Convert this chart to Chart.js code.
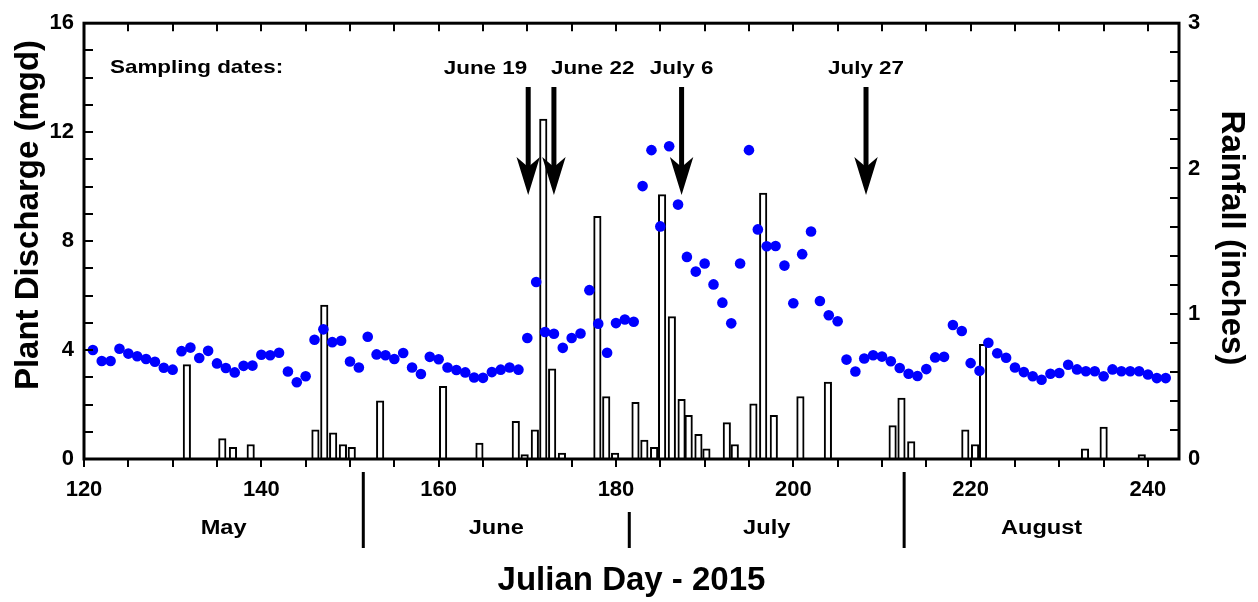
<!DOCTYPE html>
<html>
<head>
<meta charset="utf-8">
<script src="https://cdn.jsdelivr.net/npm/chart.js@4.4.0/dist/chart.umd.min.js"></script>
<style>
  html, body { margin: 0; padding: 0; background: #fff; }
  #chart { display: block; }
</style>
</head>
<body>
<canvas id="chart" width="1258" height="602"></canvas>
<script>
// daily plant discharge (mgd), one value per Julian day starting at firstDay
const firstDay = 121;
const discharge = [
    4.0, 3.6, 3.6, 4.05, 3.87, 3.77, 3.67, 3.57, 3.35, 3.28,
    3.96, 4.09, 3.71, 3.97, 3.51, 3.34, 3.18, 3.42, 3.43, 3.83,
    3.81, 3.90, 3.21, 2.82, 3.04, 4.38, 4.76, 4.29, 4.34, 3.58,
    3.36, 4.49, 3.84, 3.81, 3.67, 3.89, 3.36, 3.12, 3.75, 3.66,
    3.36, 3.27, 3.18, 2.99, 2.98, 3.19, 3.28, 3.36, 3.28, 4.44,
    6.50, 4.66, 4.60, 4.08, 4.44, 4.61, 6.20, 4.97, 3.90, 4.99,
    5.12, 5.04, 10.02, 11.34, 8.54, 11.48, 9.34, 7.42, 6.88, 7.18,
    6.41, 5.74, 4.98, 7.18, 11.34, 8.43, 7.81, 7.82, 7.10, 5.72,
    7.52, 8.35, 5.80, 5.28, 5.06, 3.65, 3.21, 3.69, 3.81, 3.76,
    3.59, 3.34, 3.13, 3.05, 3.30, 3.73, 3.75, 4.92, 4.70, 3.52,
    3.24, 4.27, 3.88, 3.72, 3.36, 3.19, 3.04, 2.91, 3.13, 3.16,
    3.46, 3.29, 3.22, 3.22, 3.04, 3.29, 3.22, 3.22, 3.22, 3.10,
    2.97, 2.97
];

// rainfall bars (inches) and the day position where each bar sits
const rainDays = [
    131.6, 135.6, 136.8, 138.8, 146.1, 147.1, 148.1, 149.2, 150.2, 153.4,
    160.5, 164.6, 168.7, 169.7, 170.85, 171.8, 172.8, 173.9, 177.9, 178.9,
    179.9, 182.2, 183.2, 184.3, 185.2, 186.3, 187.4, 188.2, 189.3, 190.2,
    192.5, 193.4, 195.5, 196.6, 197.8, 200.8, 203.9, 211.2, 212.2, 213.3,
    219.4, 220.5, 221.4, 232.9, 235.0, 239.3
];
const rainfall = [
    0.65, 0.14, 0.08, 0.10, 0.20, 1.06, 0.18, 0.10, 0.08, 0.40,
    0.50, 0.11, 0.26, 0.03, 0.20, 2.34, 0.62, 0.04, 1.67, 0.43,
    0.04, 0.39, 0.13, 0.08, 1.82, 0.98, 0.41, 0.30, 0.17, 0.07,
    0.25, 0.10, 0.38, 1.83, 0.30, 0.43, 0.53, 0.23, 0.42, 0.12,
    0.20, 0.10, 0.79, 0.07, 0.22, 0.03
];

const samplingDays = [170.1, 173.0, 187.4, 208.2];
const samplingLabels = ['June 19', 'June 22', 'July 6', 'July 27'];
const monthNames = ['May', 'June', 'July', 'August'];
const monthBreaks = [151.5, 181.5, 212.5];
const dayLabels = [120, 140, 160, 180, 200, 220, 240];
const dischargeLabels = [0, 4, 8, 12, 16];
const rainLabels = [0, 1, 2, 3];

Chart.defaults.font.family = "'Liberation Sans', Arial, sans-serif";
Chart.defaults.font.weight = 'bold';
Chart.defaults.color = '#000';

function stretchedText(ctx, text, x, y, size, align, sx) {
    ctx.save();
    ctx.translate(x, y);
    ctx.scale(sx, 1);
    ctx.font = 'bold ' + size + "px 'Liberation Sans', Arial, sans-serif";
    ctx.textAlign = align;
    ctx.textBaseline = 'alphabetic';
    ctx.fillText(text, 0, 0);
    ctx.restore();
}

const decorations = {
    id: 'decorations',
    afterDraw(chart) {
        const ctx = chart.ctx;
        const a = chart.chartArea;
        const xs = chart.scales.x;
        const ys = chart.scales.y;
        const rs = chart.scales.yRain;
        ctx.save();
        ctx.strokeStyle = '#000';
        ctx.fillStyle = '#000';

        // inward ticks on left, right and top
        ctx.lineWidth = 2;
        ctx.beginPath();
        ys.ticks.forEach(t => {
            const py = Math.round(ys.getPixelForValue(t.value));
            ctx.moveTo(a.left, py); ctx.lineTo(a.left + 9, py);
        });
        rs.ticks.forEach(t => {
            const py = Math.round(rs.getPixelForValue(t.value));
            ctx.moveTo(a.right, py); ctx.lineTo(a.right - 9, py);
        });
        xs.ticks.forEach(t => {
            const px = Math.round(xs.getPixelForValue(t.value));
            ctx.moveTo(px, a.top); ctx.lineTo(px, a.top + 8);
        });
        ctx.stroke();

        // frame
        ctx.lineWidth = 3;
        ctx.strokeRect(a.left, a.top, a.right - a.left, a.bottom - a.top);

        // month separators
        const sepTop = [472, 512, 472];
        ctx.lineWidth = 3;
        ctx.beginPath();
        monthBreaks.forEach((d, i) => {
            const px = xs.getPixelForValue(d);
            ctx.moveTo(px, sepTop[i]); ctx.lineTo(px, 548);
        });
        ctx.stroke();

        // month names, centred between the breaks
        const edges = [xs.min].concat(monthBreaks, [xs.max]);
        monthNames.forEach((m, i) => {
            const px = xs.getPixelForValue((edges[i] + edges[i + 1]) / 2);
            stretchedText(ctx, m, px, 534, 20, 'center', 1.18);
        });

        // sampling arrows
        stretchedText(ctx, 'Sampling dates:', 110, 73, 19, 'left', 1.18);
        const labelAlign = ['right', 'left', 'center', 'center'];
        const labelShift = [-1, -3, 0, 0];
        samplingDays.forEach((d, i) => {
            const px = xs.getPixelForValue(d);
            ctx.fillRect(px - 2.5, 87, 5, 80);
            ctx.beginPath();
            ctx.moveTo(px, 195);
            ctx.lineTo(px - 11.7, 157);
            ctx.lineTo(px, 167);
            ctx.lineTo(px + 11.7, 157);
            ctx.closePath();
            ctx.fill();
            stretchedText(ctx, samplingLabels[i], px + labelShift[i], 74, 19, labelAlign[i], 1.18);
        });

        // axis titles
        ctx.font = "bold 33px 'Liberation Sans', Arial, sans-serif";
        ctx.textAlign = 'center';
        ctx.textBaseline = 'alphabetic';
        ctx.fillText('Julian Day - 2015', (a.left + a.right) / 2, 590);

        ctx.save();
        ctx.translate(38, 215);
        ctx.rotate(-Math.PI / 2);
        ctx.fillText('Plant Discharge (mgd)', 0, 0);
        ctx.restore();

        ctx.save();
        ctx.translate(1222, 238);
        ctx.rotate(Math.PI / 2);
        ctx.fillText('Rainfall (inches)', 0, 0);
        ctx.restore();

        ctx.restore();
    }
};

const near = (v, list) => list.some(l => Math.abs(v - l) < 1e-6);

new Chart(document.getElementById('chart'), {
    type: 'bar',
    data: {
        datasets: [
            {
                type: 'scatter',
                label: 'Plant discharge',
                data: discharge.map((v, i) => ({ x: firstDay + i, y: v })),
                yAxisID: 'y',
                backgroundColor: '#0000ff',
                borderColor: '#0000ff',
                pointRadius: 5.3,
                pointBorderWidth: 0,
                order: 0
            },
            {
                type: 'bar',
                label: 'Rainfall',
                data: rainDays.map((d, i) => ({ x: d, y: rainfall[i] })),
                yAxisID: 'yRain',
                backgroundColor: '#ffffff',
                borderColor: '#000000',
                borderWidth: 2,
                barThickness: 7.5,
                order: 1
            }
        ]
    },
    options: {
        responsive: false,
        animation: false,
        devicePixelRatio: 1,
        layout: { padding: { top: 15, left: 0, right: 0, bottom: 0 } },
        plugins: {
            legend: { display: false },
            tooltip: { enabled: false }
        },
        scales: {
            x: {
                type: 'linear',
                position: 'bottom',
                min: 120,
                max: 243.5,
                offset: false,
                afterFit: s => { s.height = 143; },
                border: { display: false },
                grid: { display: true, offset: false, drawOnChartArea: false, drawTicks: true, tickLength: 8, color: '#000', lineWidth: 2 },
                ticks: {
                    stepSize: 5,
                    maxTicksLimit: 40,
                    includeBounds: false,
                    autoSkip: false,
                    maxRotation: 0,
                    padding: 10,
                    font: { size: 22, weight: 'bold' },
                    callback: v => near(v, dayLabels) ? String(Math.round(v)) : ''
                }
            },
            y: {
                type: 'linear',
                position: 'left',
                min: 0,
                max: 16,
                afterFit: s => { s.width = 84; },
                border: { display: false },
                grid: { display: false, drawTicks: false },
                ticks: {
                    stepSize: 1,
                    maxTicksLimit: 40,
                    autoSkip: false,
                    padding: 10,
                    font: { size: 22, weight: 'bold' },
                    callback: v => near(v, dischargeLabels) ? String(Math.round(v)) : ''
                }
            },
            yRain: {
                type: 'linear',
                position: 'right',
                min: 0,
                max: 3,
                afterFit: s => { s.width = 79; },
                border: { display: false },
                grid: { display: false, drawTicks: false },
                ticks: {
                    stepSize: 0.2,
                    maxTicksLimit: 40,
                    autoSkip: false,
                    padding: 9,
                    font: { size: 22, weight: 'bold' },
                    callback: v => near(v, rainLabels) ? String(Math.round(v)) : ''
                }
            }
        }
    },
    plugins: [decorations]
});
</script>
</body>
</html>
